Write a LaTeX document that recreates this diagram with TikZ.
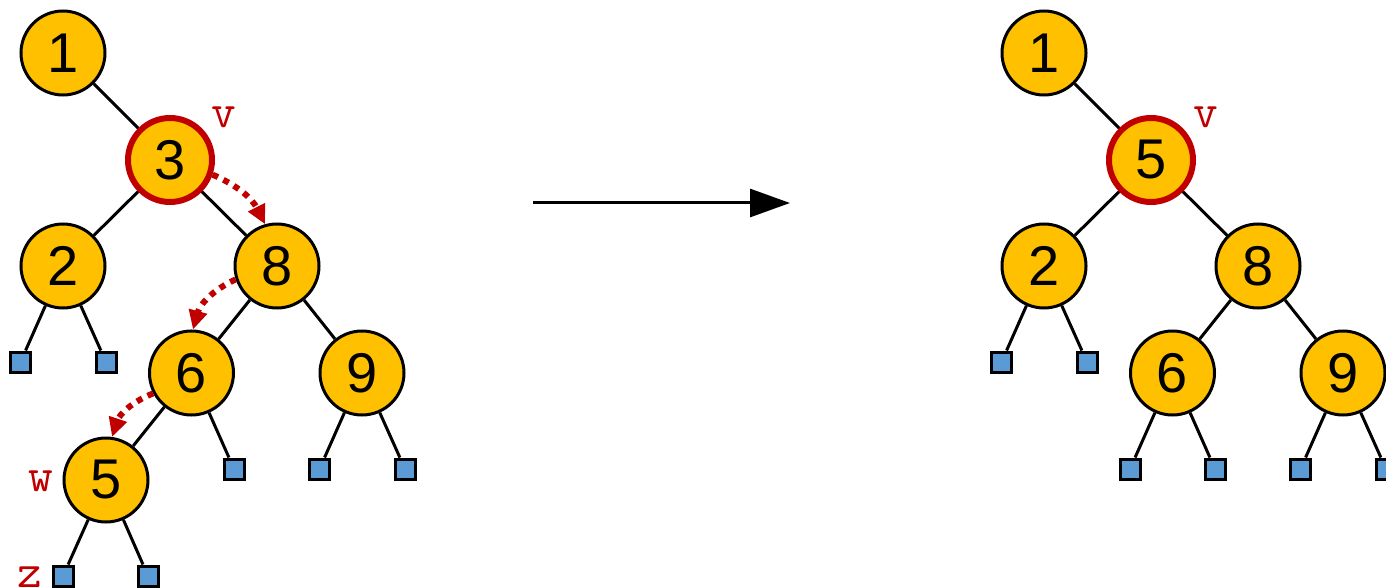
\documentclass[tikz,border=0pt]{standalone}
\usepackage{fontspec}
\setmainfont{Liberation Sans}
\usetikzlibrary{arrows.meta}
\definecolor{nodey}{RGB}{255,192,0}
\definecolor{leafb}{RGB}{91,155,213}
\definecolor{darkr}{RGB}{192,0,0}
\tikzset{
  key/.style={circle, draw=black, line width=3pt, fill=nodey, minimum size=84pt, inner sep=0pt, font=\fontsize{56}{60}\selectfont},
  keyred/.style={key, draw=darkr, line width=6pt},
  leaf/.style={rectangle, draw=black, line width=3pt, fill=leafb, minimum size=20pt, inner sep=0pt},
  edge/.style={line width=3pt, black},
  lbl/.style={text=darkr, font=\ttfamily\fontsize{48}{52}\selectfont, inner sep=0pt},
  move/.style={darkr, line width=6pt, dash pattern=on 6pt off 6pt, -{Triangle[length=19pt,width=18pt]}},
  bigarrow/.style={line width=3pt, black, -{Triangle[length=40pt,width=28pt]}}
}
\begin{document}
\begin{tikzpicture}[x=1pt,y=-1pt]
\clip (0,0) rectangle (1386,588);
\useasboundingbox (0,0) rectangle (1386,588);
% left tree
\node[key] (a1) at (63,53) {1};
\node[keyred] (a3) at (170,160) {3};
\node[key] (a2) at (63,266) {2};
\node[key] (a8) at (277,266) {8};
\node[key] (a6) at (191.5,373) {6};
\node[key] (a9) at (362,373) {9};
\node[key] (a5) at (106,480) {5};
\node[leaf] (a2l) at (20.5,362) {};
\node[leaf] (a2r) at (106,362) {};
\node[leaf] (a6r) at (234,469) {};
\node[leaf] (a9l) at (319.5,469) {};
\node[leaf] (a9r) at (405,469) {};
\node[leaf] (a5l) at (63,576) {};
\node[leaf] (a5r) at (148,576) {};
\draw[edge] (a1) -- (a3);
\draw[edge] (a3) -- (a2);
\draw[edge] (a3) -- (a8);
\draw[edge] (a8) -- (a6);
\draw[edge] (a8) -- (a9);
\draw[edge] (a6) -- (a5);
\draw[edge] (a6) -- (a6r);
\draw[edge] (a2) -- (a2l);
\draw[edge] (a2) -- (a2r);
\draw[edge] (a9) -- (a9l);
\draw[edge] (a9) -- (a9r);
\draw[edge] (a5) -- (a5l);
\draw[edge] (a5) -- (a5r);
\node[lbl] (lv) at (224,117.5) {v};
\node[lbl] (lw) at (40.5,481) {w};
\node[lbl] (lz) at (29.5,577) {z};
\draw[move] (a3.-19) to[bend left=20] (a8.106);
\draw[move] (a8.198) to[bend right=25] (a6.88);
\draw[move] (a6.208) to[bend right=25] (a5.82);
% middle arrow
\coordinate (ms) at (533,203);
\coordinate (me) at (790,203);
\draw[bigarrow] (ms) -- (me);
% right tree
\node[key] (b1) at (1044,53) {1};
\node[keyred] (b5) at (1151,160) {5};
\node[key] (b2) at (1044,266) {2};
\node[key] (b8) at (1258,266) {8};
\node[key] (b6) at (1172.5,373) {6};
\node[key] (b9) at (1343,373) {9};
\node[leaf] (b2l) at (1001.5,362) {};
\node[leaf] (b2r) at (1087,362) {};
\node[leaf] (b6l) at (1130,469) {};
\node[leaf] (b6r) at (1215,469) {};
\node[leaf] (b9l) at (1300.5,469) {};
\node[leaf] (b9r) at (1386,469) {};
\draw[edge] (b1) -- (b5);
\draw[edge] (b5) -- (b2);
\draw[edge] (b5) -- (b8);
\draw[edge] (b8) -- (b6);
\draw[edge] (b8) -- (b9);
\draw[edge] (b2) -- (b2l);
\draw[edge] (b2) -- (b2r);
\draw[edge] (b6) -- (b6l);
\draw[edge] (b6) -- (b6r);
\draw[edge] (b9) -- (b9l);
\draw[edge] (b9) -- (b9r);
\node[lbl] (rv) at (1205.5,117.5) {v};
\end{tikzpicture}
\end{document}
